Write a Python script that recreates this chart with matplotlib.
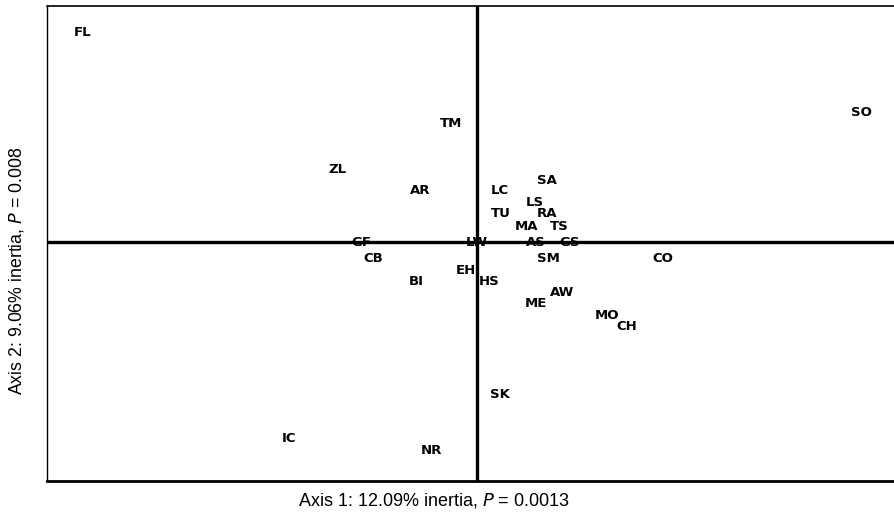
import matplotlib
matplotlib.use('Agg')
import matplotlib.pyplot as plt

# site labels and their CA scores (axis 1, axis 2)
labels = ['FL', 'TM', 'SO', 'ZL', 'AR', 'LC', 'SA', 'LS', 'TU', 'RA',
          'MA', 'TS', 'GF', 'LW', 'AS', 'GS', 'CB', 'SM', 'CO', 'EH',
          'BI', 'HS', 'AW', 'ME', 'MO', 'CH', 'SK', 'IC', 'NR']
axis1 = [-3.94, -0.26, 3.84, -1.40, -0.57, 0.23, 0.70, 0.58, 0.24, 0.70,
         0.49, 0.82, -1.16, 0.00, 0.59, 0.93, -1.04, 0.71, 1.86, -0.11,
         -0.61, 0.12, 0.85, 0.59, 1.30, 1.50, 0.23, -1.88, -0.46]
axis2 = [2.09, 1.18, 1.29, 0.72, 0.51, 0.51, 0.61, 0.39, 0.28, 0.28,
         0.15, 0.15, -0.01, -0.01, -0.01, -0.01, -0.17, -0.17, -0.17, -0.29,
         -0.40, -0.40, -0.51, -0.62, -0.74, -0.85, -1.53, -1.97, -2.09]

fig = plt.figure(figsize=(8.94, 5.21), dpi=100)
ax = fig.add_axes([47 / 894, 1 - 481 / 521, 1 - 47 / 894, 475 / 521])

for lab, x, y in zip(labels, axis1, axis2):
    ax.text(x, y, lab, ha='center', va='center', fontsize=9.5,
            fontweight='bold', family='DejaVu Sans', color='black')

ax.axhline(0, color='black', lw=2.4, zorder=0)
ax.axvline(0, color='black', lw=2.4, zorder=0)

ax.set_xlim(-4.30, 4.17)
ax.set_ylim(-2.39, 2.36)
ax.set_xticks([])
ax.set_yticks([])
ax.spines['right'].set_visible(False)
ax.spines['left'].set_linewidth(1.0)
ax.spines['top'].set_linewidth(1.2)
ax.spines['bottom'].set_linewidth(2.0)

fig.text(434 / 894, 1 - 500 / 521, 'Axis 1: 12.09% inertia, $\\mathit{P}$ = 0.0013',
         ha='center', va='center', fontsize=13, family='Liberation Sans')
fig.text(17 / 894, 1 - 271 / 521, 'Axis 2: 9.06% inertia, $\\mathit{P}$ = 0.008',
         ha='center', va='center', fontsize=12.8, family='Liberation Sans',
         rotation=90)

fig.savefig('out.png', dpi=100)
